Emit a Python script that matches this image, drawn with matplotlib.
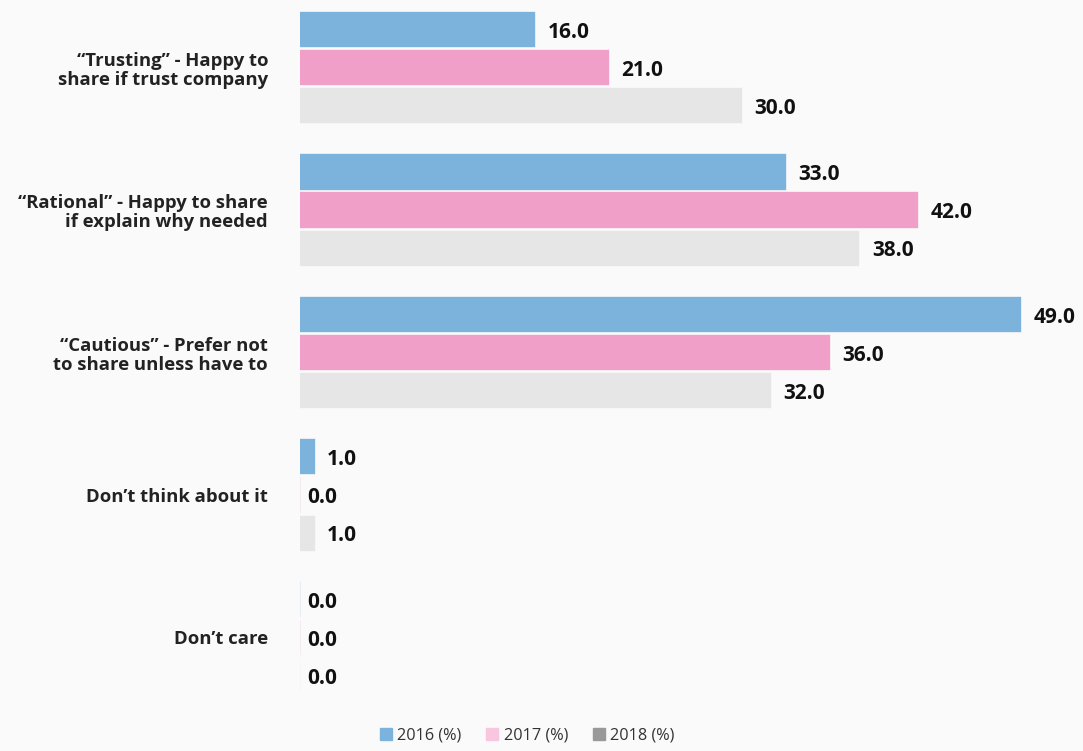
import matplotlib.pyplot as plt
from matplotlib.lines import Line2D
import numpy as np

plt.rcParams['font.family'] = ['Open Sans', 'DejaVu Sans']

# data
categories = ['\u201cTrusting\u201d - Happy to\nshare if trust company',
              '\u201cRational\u201d - Happy to share\nif explain why needed',
              '\u201cCautious\u201d - Prefer not\nto share unless have to',
              'Don\u2019t think about it',
              'Don\u2019t care']
series = ['2016 (%)', '2017 (%)', '2018 (%)']
v2016 = [16.0, 33.0, 49.0, 1.0, 0.0]
v2017 = [21.0, 42.0, 36.0, 0.0, 0.0]
v2018 = [30.0, 38.0, 32.0, 1.0, 0.0]

bar_colors = ['#7cb3dd', '#f09fc8', '#e6e6e6']
legend_colors = ['#7cb3dd', '#f8c6df', '#999999']
bg = '#fafafa'

fig = plt.figure(figsize=(10.83, 7.51), dpi=100, facecolor=bg)
ax = fig.add_axes([300/1083, 1 - 712/751, 783/1083, 712/751])
ax.set_facecolor(bg)

y = np.arange(len(categories))
offs = [-0.267, 0.0, 0.267]
h = 0.246
for vals, off, c in zip([v2016, v2017, v2018], offs, bar_colors):
    bars = ax.barh(y + off, vals, height=h, color=c, edgecolor=c, linewidth=0.25)
    for b, v in zip(bars, vals):
        ax.annotate('%.1f' % v, (b.get_width(), b.get_y() + b.get_height()/2),
                    xytext=(5.5 if v == 0 else 9, -2), textcoords='offset points',
                    ha='left', va='center', fontsize=15, fontweight='bold',
                    color='#111111')

ax.set_xlim(0, 53.2)
ax.set_ylim(4.523, -0.474)
ax.set_yticks(y)
ax.set_yticklabels(categories, fontsize=13.3, fontweight='bold', color='#222222',
                   linespacing=1.1)
ax.tick_params(axis='y', length=0, pad=23)
ax.set_xticks([])
for s in ax.spines.values():
    s.set_visible(False)

handles = [Line2D([], [], marker='s', linestyle='', markersize=9, color=c)
           for c in legend_colors]
fig.legend(handles, series, loc='lower center', bbox_to_anchor=(0.482, -0.01),
           ncol=3, frameon=False, fontsize=11.7, handletextpad=-0.3,
           columnspacing=0.9, labelcolor='#333333')

fig.savefig('out.png', dpi=100, facecolor=bg)
